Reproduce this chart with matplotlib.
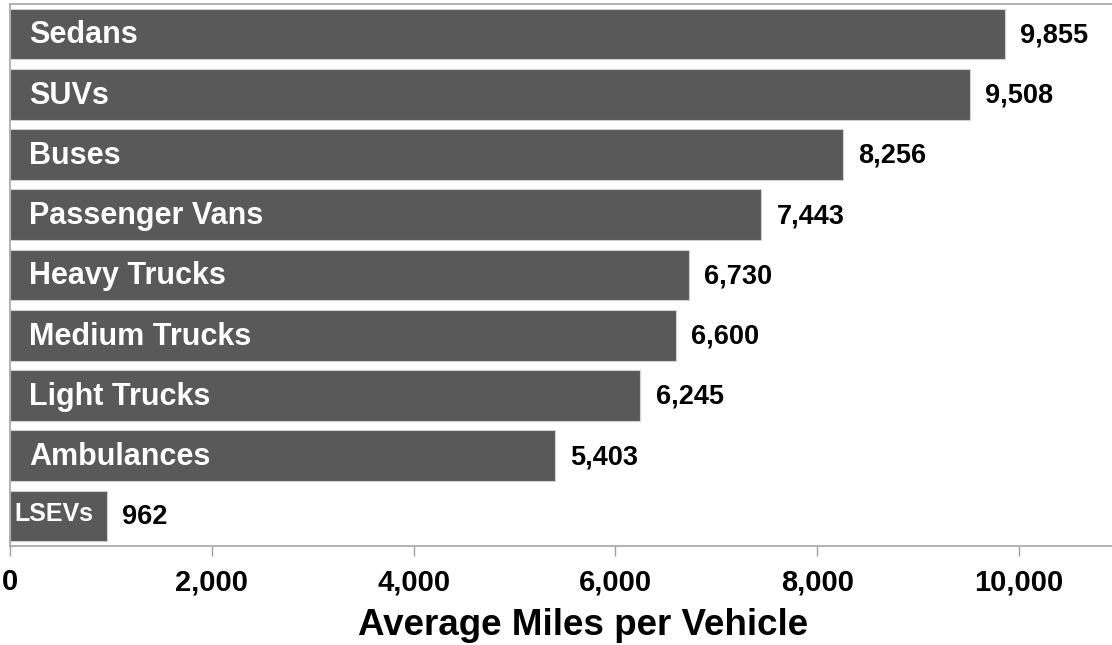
import matplotlib.pyplot as plt

plt.rcParams['font.family'] = ['Liberation Sans', 'DejaVu Sans']
plt.rcParams['font.weight'] = 'bold'

categories = ["Sedans", "SUVs", "Buses", "Passenger Vans", "Heavy Trucks",
              "Medium Trucks", "Light Trucks", "Ambulances", "LSEVs"]
miles = [9855, 9508, 8256, 7443, 6730, 6600, 6245, 5403, 962]
tick_values = [0, 2000, 4000, 6000, 8000, 10000]
tick_labels = ["0", "2,000", "4,000", "6,000", "8,000", "10,000"]

fig = plt.figure(figsize=(11.12, 6.45), dpi=100)
ax = fig.add_axes([0.009, 0.1535, 0.991, 0.8403])

ypos = list(range(len(categories)))
ax.barh(ypos, miles, height=0.84, color='#595959', edgecolor='#d0d0d0', linewidth=0.8)
ax.set_ylim(len(categories) - 0.5, -0.5)
ax.set_xlim(0, 10920)

# category names inside bars, values just past the bar ends
for y, name, v in zip(ypos, categories, miles):
    if v < 2000:
        ax.annotate(name, xy=(0, y), xytext=(3, 1), textcoords='offset points',
                    ha='left', va='center', color='white', fontsize=18, fontweight='bold')
    else:
        ax.annotate(name, xy=(0, y), xytext=(14, -1), textcoords='offset points',
                    ha='left', va='center', color='white', fontsize=22, fontweight='bold')
    ax.annotate(f"{v:,}", xy=(v, y), xytext=(11, -1), textcoords='offset points',
                ha='left', va='center', color='black', fontsize=19.5, fontweight='bold')

ax.set_xticks(tick_values)
ax.set_xticklabels(tick_labels, fontsize=21, fontweight='bold')
ax.set_yticks([])
ax.tick_params(axis='x', direction='out', length=7, width=1, color='#a0a0a0', pad=9)

for side in ['left', 'top', 'bottom']:
    ax.spines[side].set_color('#a6a6a6')
    ax.spines[side].set_linewidth(1.2)
ax.spines['right'].set_visible(False)

ax.set_xlabel("Average Miles per Vehicle", fontsize=26.5, fontweight='bold')
ax.xaxis.set_label_coords(0.52, -0.115)

fig.savefig("out.png", dpi=100)
